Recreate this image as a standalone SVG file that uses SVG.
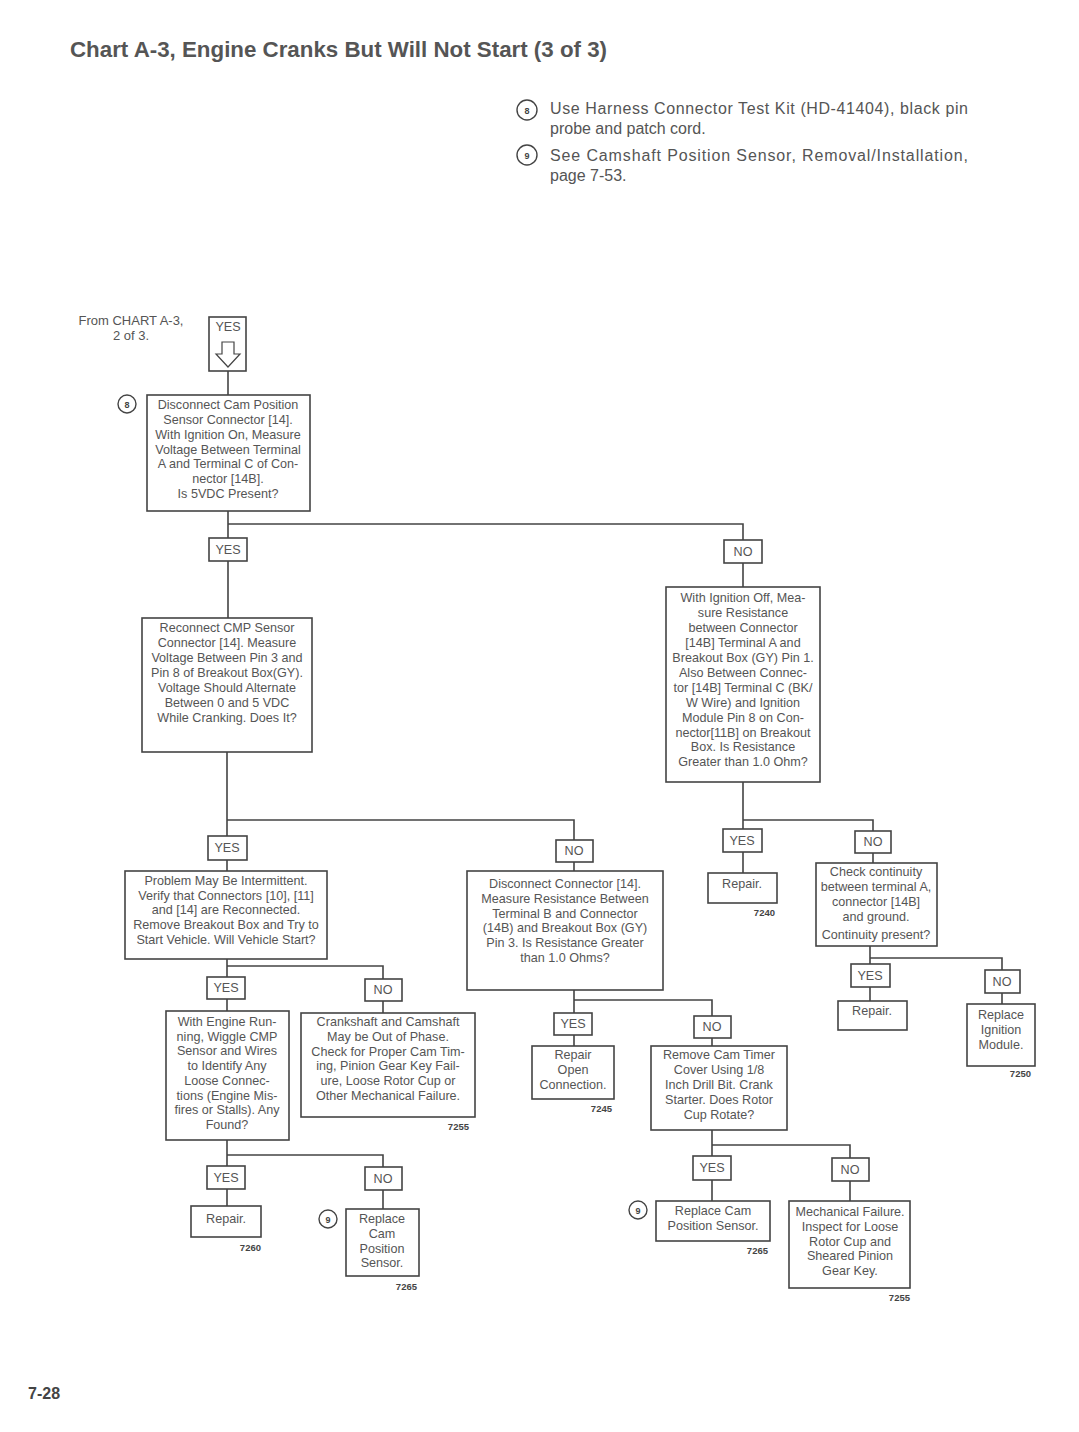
<svg xmlns="http://www.w3.org/2000/svg" width="1079" height="1432" viewBox="0 0 1079 1432">
<style>
.bg{fill:#fff}
.box{fill:#fff;stroke:#444;stroke-width:1.6}
.conn{fill:none;stroke:#444;stroke-width:1.6}
.t{font-family:"Liberation Sans",Arial,sans-serif;font-size:12.6px;fill:#555;text-anchor:middle}
.lt{font-family:"Liberation Sans",Arial,sans-serif;font-size:12.6px;fill:#555;text-anchor:middle}
.code{font-family:"Liberation Sans",Arial,sans-serif;font-size:9.5px;font-weight:bold;fill:#444;text-anchor:end}
.note{font-family:"Liberation Sans",Arial,sans-serif;font-size:16px;fill:#555}
.circ{fill:#fff;stroke:#444;stroke-width:1.4}
.cn{font-family:"Liberation Sans",Arial,sans-serif;font-size:9px;font-weight:bold;fill:#444;text-anchor:middle}
.title{font-family:"Liberation Sans",Arial,sans-serif;font-size:22px;font-weight:bold;fill:#555}
</style>
<rect class="bg" x="0" y="0" width="1079" height="1432"/>

<text class="title" x="70" y="57" textLength="537" lengthAdjust="spacingAndGlyphs">Chart A-3, Engine Cranks But Will Not Start (3 of 3)</text>

<g id="notes">
<circle class="circ" cx="527" cy="110" r="10"/><text class="cn" x="527" y="113.5">8</text>
<text class="note" x="550" y="114" textLength="418" lengthAdjust="spacing">Use Harness Connector Test Kit (HD-41404), black pin</text>
<text class="note" x="550" y="134">probe and patch cord.</text>
<circle class="circ" cx="527" cy="155" r="10"/><text class="cn" x="527" y="158.5">9</text>
<text class="note" x="550" y="161" textLength="418" lengthAdjust="spacing">See Camshaft Position Sensor, Removal/Installation,</text>
<text class="note" x="550" y="181">page 7-53.</text>
</g>

<g id="connectors">
<path class="conn" d="M228,371V395"/>
<path class="conn" d="M228,511V538M228,524H743V540M228,561V618M743,563V587"/>
<path class="conn" d="M227,752V836M227,820H574V840M227,860V871M574,862V871"/>
<path class="conn" d="M743,782V829M743,820H873V831M743,852V873M873,853V863"/>
<path class="conn" d="M870,946V964M870,958H1002V970M870,987V1001M1002,993V1004"/>
<path class="conn" d="M227,959V977M227,966H383V979M227,999V1011M383,1001V1013"/>
<path class="conn" d="M574,990V1013M574,1000H712V1016M574,1035V1046M712,1038V1046"/>
<path class="conn" d="M227,1140V1166M227,1155H383V1167M227,1189V1206M383,1190V1209"/>
<path class="conn" d="M712,1130V1156M712,1145H850V1158M712,1180V1201M850,1181V1201"/>
</g>

<g id="from">
<text class="t" x="131" y="325" style="font-size:13px">From CHART A-3,</text>
<text class="t" x="131" y="340" style="font-size:13px">2 of 3.</text>
</g>

<g id="start-yes">
<rect class="box" x="209" y="317" width="37" height="54"/>
<text class="lt" x="228" y="331">YES</text>
<path d="M222,342H234V354H240L228,367L216,354H222Z" fill="#fff" stroke="#444" stroke-width="1.2"/>
</g>

<g id="step1">
<circle class="circ" cx="127" cy="404" r="9"/><text class="cn" x="127" y="407.5">8</text>
<rect class="box" x="147" y="395" width="163" height="116"/>
<text class="t" x="228" y="409">Disconnect Cam Position</text>
<text class="t" x="228" y="424">Sensor Connector [14].</text>
<text class="t" x="228" y="439">With Ignition On, Measure</text>
<text class="t" x="228" y="454">Voltage Between Terminal</text>
<text class="t" x="228" y="468">A and Terminal C of Con-</text>
<text class="t" x="228" y="483">nector [14B].</text>
<text class="t" x="228" y="498">Is 5VDC Present?</text>
</g>

<g id="l1-yes"><rect class="box" x="209" y="538" width="38" height="23"/><text class="lt" x="228" y="554">YES</text></g>
<g id="l1-no"><rect class="box" x="724" y="540" width="38" height="23"/><text class="lt" x="743" y="556">NO</text></g>

<g id="step2">
<rect class="box" x="142" y="618" width="170" height="134"/>
<text class="t" x="227" y="632">Reconnect CMP Sensor</text>
<text class="t" x="227" y="647">Connector [14]. Measure</text>
<text class="t" x="227" y="662">Voltage Between Pin 3 and</text>
<text class="t" x="227" y="677">Pin 8 of Breakout Box(GY).</text>
<text class="t" x="227" y="692">Voltage Should Alternate</text>
<text class="t" x="227" y="707">Between 0 and 5 VDC</text>
<text class="t" x="227" y="722">While Cranking. Does It?</text>
</g>

<g id="step3">
<rect class="box" x="666" y="587" width="154" height="195"/>
<text class="t" x="743" y="602">With Ignition Off, Mea-</text>
<text class="t" x="743" y="617">sure Resistance</text>
<text class="t" x="743" y="632">between Connector</text>
<text class="t" x="743" y="647">[14B] Terminal A and</text>
<text class="t" x="743" y="662">Breakout Box (GY) Pin 1.</text>
<text class="t" x="743" y="677">Also Between Connec-</text>
<text class="t" x="743" y="692">tor [14B] Terminal C (BK/</text>
<text class="t" x="743" y="707">W Wire) and Ignition</text>
<text class="t" x="743" y="722">Module Pin 8 on Con-</text>
<text class="t" x="743" y="737">nector[11B] on Breakout</text>
<text class="t" x="743" y="751">Box. Is Resistance</text>
<text class="t" x="743" y="766">Greater than 1.0 Ohm?</text>
</g>

<g id="l2-yes"><rect class="box" x="208" y="836" width="39" height="24"/><text class="lt" x="227" y="852">YES</text></g>
<g id="l2-no"><rect class="box" x="556" y="840" width="37" height="22"/><text class="lt" x="574" y="855">NO</text></g>
<g id="l3-yes"><rect class="box" x="723" y="829" width="39" height="23"/><text class="lt" x="742" y="845">YES</text></g>
<g id="l3-no"><rect class="box" x="855" y="831" width="36" height="22"/><text class="lt" x="873" y="846">NO</text></g>

<g id="step4">
<rect class="box" x="125" y="871" width="202" height="88"/>
<text class="t" x="226" y="885">Problem May Be Intermittent.</text>
<text class="t" x="226" y="900">Verify that Connectors [10], [11]</text>
<text class="t" x="226" y="914">and [14] are Reconnected.</text>
<text class="t" x="226" y="929">Remove Breakout Box and Try to</text>
<text class="t" x="226" y="944">Start Vehicle. Will Vehicle Start?</text>
</g>

<g id="step5">
<rect class="box" x="467" y="871" width="196" height="119"/>
<text class="t" x="565" y="888">Disconnect Connector [14].</text>
<text class="t" x="565" y="903">Measure Resistance Between</text>
<text class="t" x="565" y="918">Terminal B and Connector</text>
<text class="t" x="565" y="932">(14B) and Breakout Box (GY)</text>
<text class="t" x="565" y="947">Pin 3. Is Resistance Greater</text>
<text class="t" x="565" y="962">than 1.0 Ohms?</text>
</g>

<g id="repair-7240">
<rect class="box" x="708" y="873" width="69" height="30"/>
<text class="t" x="742" y="888">Repair.</text>
<text class="code" x="775" y="916">7240</text>
</g>

<g id="step6">
<rect class="box" x="816" y="863" width="121" height="83"/>
<text class="t" x="876" y="876">Check continuity</text>
<text class="t" x="876" y="891">between terminal A,</text>
<text class="t" x="876" y="906">connector [14B]</text>
<text class="t" x="876" y="921">and ground.</text>
<text class="t" x="876" y="939">Continuity present?</text>
</g>

<g id="l6-yes"><rect class="box" x="851" y="964" width="39" height="23"/><text class="lt" x="870" y="980">YES</text></g>
<g id="l6-no"><rect class="box" x="985" y="970" width="35" height="23"/><text class="lt" x="1002" y="986">NO</text></g>

<g id="repair-a">
<rect class="box" x="838" y="1001" width="69" height="29"/>
<text class="t" x="872" y="1015">Repair.</text>
</g>

<g id="replace-ignition">
<rect class="box" x="967" y="1004" width="68" height="62"/>
<text class="t" x="1001" y="1019">Replace</text>
<text class="t" x="1001" y="1034">Ignition</text>
<text class="t" x="1001" y="1049">Module.</text>
<text class="code" x="1031" y="1077">7250</text>
</g>

<g id="l4-yes"><rect class="box" x="207" y="977" width="38" height="22"/><text class="lt" x="226" y="992">YES</text></g>
<g id="l4-no"><rect class="box" x="365" y="979" width="37" height="22"/><text class="lt" x="383" y="994">NO</text></g>

<g id="step7">
<rect class="box" x="166" y="1011" width="123" height="129"/>
<text class="t" x="227" y="1026">With Engine Run-</text>
<text class="t" x="227" y="1041">ning, Wiggle CMP</text>
<text class="t" x="227" y="1055">Sensor and Wires</text>
<text class="t" x="227" y="1070">to Identify Any</text>
<text class="t" x="227" y="1085">Loose Connec-</text>
<text class="t" x="227" y="1100">tions (Engine Mis-</text>
<text class="t" x="227" y="1114">fires or Stalls). Any</text>
<text class="t" x="227" y="1129">Found?</text>
</g>

<g id="step8">
<rect class="box" x="301" y="1013" width="174" height="104"/>
<text class="t" x="388" y="1026">Crankshaft and Camshaft</text>
<text class="t" x="388" y="1041">May be Out of Phase.</text>
<text class="t" x="388" y="1056">Check for Proper Cam Tim-</text>
<text class="t" x="388" y="1070">ing, Pinion Gear Key Fail-</text>
<text class="t" x="388" y="1085">ure, Loose Rotor Cup or</text>
<text class="t" x="388" y="1100">Other Mechanical Failure.</text>
<text class="code" x="469" y="1130">7255</text>
</g>

<g id="l5-yes"><rect class="box" x="554" y="1013" width="38" height="22"/><text class="lt" x="573" y="1028">YES</text></g>
<g id="l5-no"><rect class="box" x="694" y="1016" width="37" height="22"/><text class="lt" x="712" y="1031">NO</text></g>

<g id="repair-open">
<rect class="box" x="532" y="1046" width="82" height="53"/>
<text class="t" x="573" y="1059">Repair</text>
<text class="t" x="573" y="1074">Open</text>
<text class="t" x="573" y="1089">Connection.</text>
<text class="code" x="612" y="1112">7245</text>
</g>

<g id="step9">
<rect class="box" x="651" y="1046" width="136" height="84"/>
<text class="t" x="719" y="1059">Remove Cam Timer</text>
<text class="t" x="719" y="1074">Cover Using 1/8</text>
<text class="t" x="719" y="1089">Inch Drill Bit. Crank</text>
<text class="t" x="719" y="1104">Starter. Does Rotor</text>
<text class="t" x="719" y="1119">Cup Rotate?</text>
</g>

<g id="l7-yes"><rect class="box" x="207" y="1166" width="38" height="23"/><text class="lt" x="226" y="1182">YES</text></g>
<g id="l7-no"><rect class="box" x="365" y="1167" width="37" height="23"/><text class="lt" x="383" y="1183">NO</text></g>

<g id="repair-7260">
<rect class="box" x="191" y="1206" width="70" height="31"/>
<text class="t" x="226" y="1223">Repair.</text>
<text class="code" x="261" y="1251">7260</text>
</g>

<g id="replace-cmp-a">
<circle class="circ" cx="328" cy="1219" r="9"/><text class="cn" x="328" y="1222.5">9</text>
<rect class="box" x="346" y="1209" width="73" height="67"/>
<text class="t" x="382" y="1223">Replace</text>
<text class="t" x="382" y="1238">Cam</text>
<text class="t" x="382" y="1253">Position</text>
<text class="t" x="382" y="1267">Sensor.</text>
<text class="code" x="417" y="1290">7265</text>
</g>

<g id="l9-yes"><rect class="box" x="693" y="1156" width="38" height="24"/><text class="lt" x="712" y="1172">YES</text></g>
<g id="l9-no"><rect class="box" x="832" y="1158" width="37" height="23"/><text class="lt" x="850" y="1174">NO</text></g>

<g id="replace-cmp-b">
<circle class="circ" cx="638" cy="1210" r="9"/><text class="cn" x="638" y="1213.5">9</text>
<rect class="box" x="656" y="1201" width="114" height="40"/>
<text class="t" x="713" y="1215">Replace Cam</text>
<text class="t" x="713" y="1230">Position Sensor.</text>
<text class="code" x="768" y="1254">7265</text>
</g>

<g id="mech-failure">
<rect class="box" x="789" y="1201" width="121" height="87"/>
<text class="t" x="850" y="1216">Mechanical Failure.</text>
<text class="t" x="850" y="1231">Inspect for Loose</text>
<text class="t" x="850" y="1246">Rotor Cup and</text>
<text class="t" x="850" y="1260">Sheared Pinion</text>
<text class="t" x="850" y="1275">Gear Key.</text>
<text class="code" x="910" y="1301">7255</text>
</g>

<text x="28" y="1399" font-family="Liberation Sans, Arial, sans-serif" font-size="16" font-weight="bold" fill="#444">7-28</text>
</svg>
